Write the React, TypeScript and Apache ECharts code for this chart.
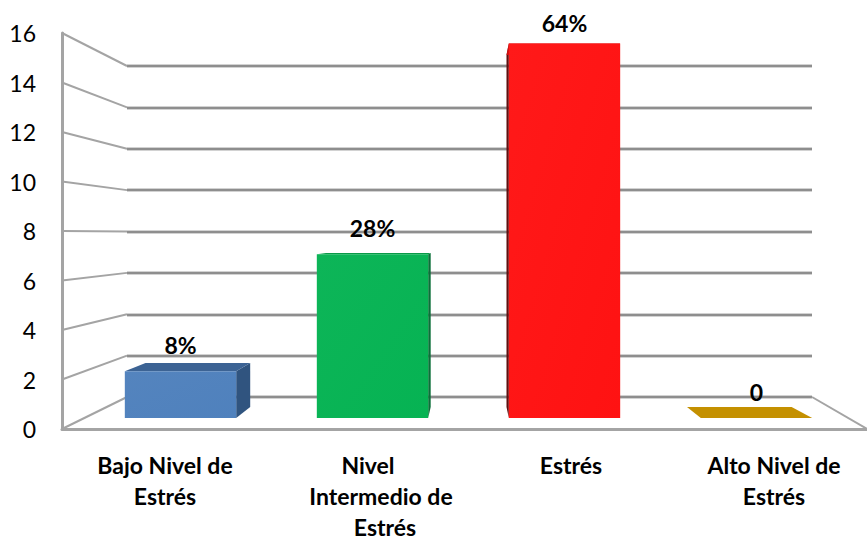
import React, { useEffect, useRef } from "react";
import * as echarts from "echarts";

const categories = ["Bajo Nivel de Estrés", "Nivel Intermedio de Estrés", "Estrés", "Alto Nivel de Estrés"];
const values = [2, 7, 16, 0];
const valueLabels = ["8%", "28%", "64%", "0"];
const frontColors = ["#4f81bd", "#06b353", "#ff1212", "#c49000"];
const topColors = ["#3c6394", "#0a9a48", "#d01010", "#c49000"];
const sideColors = ["#30547f", "#0b6f38", "#5e1010", "#a87c00"];
const wallTicks = [0, 2, 4, 6, 8, 10, 12, 14, 16];

const FONT = "Lato, Carlito, Calibri, sans-serif";
const GRID = "#a4a4a4";
const GRID_HALO = "#d2d2d2";
const GRID_CORE = "#8e8e8e";

// Front plane of the box, its back wall, and the plane the bars stand on.
const FRONT = { left: 62, top: 33, width: 805, height: 396 };
const BACK = { left: 127, top: 66, width: 685, height: 331 };
const BARS = { left: 84.5, top: 43.6, width: 768, height: 374.4 };
const LABELS = { left: 63.5, top: 33, width: 812, height: 396, outerBoundsMode: "none" };

// Vanishing point and shrink factor for a bar's back face.
const VP = { x: 470, y: 235, s: 0.94 };
const recede = (p: number[]) => [VP.x + VP.s * (p[0] - VP.x), VP.y + VP.s * (p[1] - VP.y)];

function renderWall(_: any, api: any) {
  const front = api.coord([0, api.value(1)]);
  const backY = BACK.top + BACK.height - ((FRONT.top + FRONT.height - front[1]) * BACK.height) / FRONT.height;
  return {
    type: "line",
    shape: { x1: front[0], y1: front[1], x2: BACK.left, y2: backY },
    style: { stroke: GRID, lineWidth: 2 },
  };
}

function renderBar(params: any, api: any) {
  const i = params.dataIndex;
  const cx = api.coord([i, 0])[0];
  const half = (api.size([1, 0])[0] * 0.58) / 2;
  const y0 = api.coord([i, 0])[1];
  const y1 = api.coord([i, api.value(1)])[1];
  const bl = [cx - half, y0];
  const br = [cx + half, y0];
  const tl = [cx - half, y1];
  const tr = [cx + half, y1];
  const [bbl, bbr, btl, btr] = [bl, br, tl, tr].map(recede);
  const children: any[] = [];
  const poly = (points: number[][], fill: any) =>
    children.push({ type: "polygon", shape: { points }, style: { fill, stroke: null } });
  if (y0 !== y1) {
    // The side that faces the viewer depends on which side of the vanishing point the bar sits.
    if (btr[0] > tr[0]) poly([tr, btr, bbr, br], sideColors[i]);
    if (btl[0] < tl[0]) poly([tl, btl, bbl, bl], sideColors[i]);
    poly([tl, btl, btr, tr], topColors[i]);
    const c = frontColors[i];
    poly(
      [tl, tr, br, bl],
      new echarts.graphic.LinearGradient(0, 0, 1, 1, [
        { offset: 0, color: echarts.color.lift(c, 0.03) },
        { offset: 1, color: c },
      ])
    );
  } else {
    poly([bbl, bbr, br, bl], frontColors[i]);
  }
  children.push({
    type: "text",
    style: {
      text: valueLabels[i],
      x: cx,
      y: Math.max(y1 - 26, 23),
      align: "center",
      verticalAlign: "middle",
      font: `bold 23px ${FONT}`,
      fill: "#000",
    },
  });
  return { type: "group", children };
}

export default function App() {
  const ref = useRef<HTMLDivElement>(null);
  useEffect(() => {
    const chart = echarts.init(ref.current!, null, { renderer: "svg" });
    const hidden = { show: false };
    const labelText = { fontFamily: FONT, fontWeight: "bold", fontSize: 23, lineHeight: 31, color: "#000" };
    const wallAxis = (gridIndex: number, color: string, width: number) => ({
      gridIndex,
      type: "value",
      min: 0,
      max: 16,
      interval: 2,
      axisLine: hidden,
      axisTick: hidden,
      axisLabel: hidden,
      splitLine: { show: true, lineStyle: { color, width } },
    });
    chart.setOption({
      animation: false,
      backgroundColor: "#fff",
      grid: [FRONT, BACK, BARS, LABELS, BACK],
      xAxis: [
        {
          gridIndex: 0,
          type: "value",
          min: 0,
          max: 1,
          axisLine: { show: true, lineStyle: { color: GRID, width: 3 } },
          axisTick: hidden,
          axisLabel: hidden,
          splitLine: hidden,
        },
        { gridIndex: 1, type: "value", min: 0, max: 1, show: false, splitLine: hidden },
        { gridIndex: 2, type: "category", data: categories, show: false },
        {
          gridIndex: 3,
          type: "category",
          data: categories,
          axisLine: hidden,
          axisTick: hidden,
          axisLabel: {
            interval: 0,
            margin: 20,
            formatter: (v: string) =>
              v === categories[1]
                ? "{a|Nivel}\n{b|Intermedio de}\n{c|Estrés}"
                : v === "Estrés"
                ? `{a|${v}}`
                : `{a|${v.replace(" Estrés", "")}}\n{a|Estrés}`,
            rich: {
              a: labelText,
              b: { ...labelText, padding: [0, 0, 0, 26] },
              c: { ...labelText, padding: [0, 0, 0, 34] },
            },
          },
        },
        { gridIndex: 4, type: "value", min: 0, max: 1, show: false, splitLine: hidden },
      ],
      yAxis: [
        {
          gridIndex: 0,
          type: "value",
          min: 0,
          max: 16,
          interval: 2,
          axisLine: { show: true, lineStyle: { color: GRID, width: 3 } },
          axisTick: hidden,
          splitLine: hidden,
          axisLabel: { margin: 26, fontFamily: FONT, fontSize: 23, color: "#000" },
        },
        wallAxis(1, GRID_HALO, 4),
        { gridIndex: 2, type: "value", min: 0, max: 16, show: false, splitLine: hidden },
        { gridIndex: 3, type: "value", min: 0, max: 16, show: false, splitLine: hidden },
        wallAxis(4, GRID_CORE, 2),
      ],
      series: [
        {
          type: "custom",
          xAxisIndex: 0,
          yAxisIndex: 0,
          data: wallTicks.map((t) => [0, t]),
          renderItem: renderWall,
          silent: true,
          z: 2,
        },
        {
          // Floor's right edge, running back from the front corner to the wall.
          type: "custom",
          xAxisIndex: 0,
          yAxisIndex: 0,
          data: [[1, 0]],
          renderItem: (_: any, api: any) => {
            const front = api.coord([1, 0]);
            return {
              type: "line",
              shape: { x1: front[0], y1: front[1], x2: BACK.left + BACK.width, y2: BACK.top + BACK.height },
              style: { stroke: GRID, lineWidth: 2 },
            };
          },
          silent: true,
          z: 2,
        },
        {
          type: "custom",
          xAxisIndex: 2,
          yAxisIndex: 2,
          data: values.map((v, i) => [i, v]),
          renderItem: renderBar,
          silent: true,
          z: 5,
        },
      ],
    });
    return () => chart.dispose();
  }, []);
  return <div ref={ref} style={{ position: "fixed", left: 0, top: 0, width: 867, height: 540 }} />;
}
